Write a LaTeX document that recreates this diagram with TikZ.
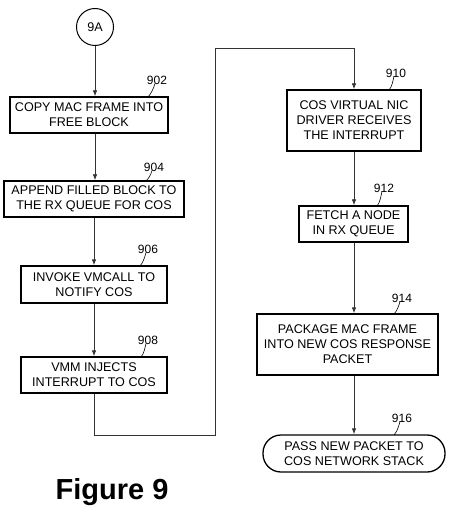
\documentclass[tikz,border=0pt]{standalone}
\usepackage{fontspec}
\setmainfont{Liberation Sans}
\usetikzlibrary{arrows.meta}
\begin{document}
\begin{tikzpicture}[x=1pt,y=-1pt,
 box/.style={draw,line width=1.3pt,align=center,inner sep=0pt,font=\fontsize{12.6}{15}\selectfont},
 term/.style={box,rounded corners=18pt},
 lbl/.style={font=\fontsize{12}{14}\selectfont,inner sep=0pt},
 flow/.style={draw=black!80,line width=0.8pt,-{Latex[length=6pt,width=4.5pt]}},
 lead/.style={draw,line width=0.6pt}]
\useasboundingbox (0,0) rectangle (449,510);

% start connector
\node[draw,line width=1pt,circle,minimum size=37pt,inner sep=0pt,font=\fontsize{12.6}{15}\selectfont] (c9a) at (95,27) {9A};

% left column
\node[box,minimum width=158pt,minimum height=36pt] (b902) at (89,115) {COPY MAC FRAME INTO\\FREE BLOCK};
\node[box,minimum width=180pt,minimum height=36pt] (b904) at (94,199) {APPEND FILLED BLOCK TO\\THE RX QUEUE FOR COS};
\node[box,minimum width=146pt,minimum height=37pt] (b906) at (94,284.5) {INVOKE VMCALL TO\\NOTIFY COS};
\node[box,minimum width=146pt,minimum height=36pt] (b908) at (94,375) {VMM INJECTS\\INTERRUPT TO COS};

% right column
\node[box,minimum width=134pt,minimum height=61pt] (b910) at (354,120.5) {COS VIRTUAL NIC\\DRIVER RECEIVES\\THE INTERRUPT};
\node[box,minimum width=109pt,minimum height=36pt] (b912) at (353.5,224) {FETCH A NODE\\IN RX QUEUE};
\node[box,minimum width=181pt,minimum height=61pt] (b914) at (347.5,344.5) {PACKAGE MAC FRAME\\INTO NEW COS RESPONSE\\PACKET};
\node[term,minimum width=182pt,minimum height=37pt] (b916) at (354,453.5) {PASS NEW PACKET TO\\COS NETWORK STACK};

% reference numerals
\node[lbl] (l902) at (157,80) {902};
\node[lbl] (l904) at (154,167) {904};
\node[lbl] (l906) at (148,249) {906};
\node[lbl] (l908) at (148,340) {908};
\node[lbl] (l910) at (396,73) {910};
\node[lbl] (l912) at (384,188) {912};
\node[lbl] (l914) at (402,298) {914};
\node[lbl] (l916) at (402,418) {916};

\coordinate (t902) at (148,97);
\coordinate (t904) at (146,181);
\coordinate (t906) at (140,266);
\coordinate (t908) at (141,357);
\coordinate (t910) at (389,90);
\coordinate (t912) at (377,206);
\coordinate (t914) at (394,314);
\coordinate (t916) at (394,435);

\foreach \n in {902,904,906,908,910,912,914,916}{
  \draw[lead] (t\n) .. controls +(3,-3) and +(-1,4) .. ([xshift=-2pt,yshift=1pt]l\n.south);
}

% flow
\draw[flow] (c9a.south) -- (c9a.south |- b902.north);
\draw[flow] (c9a.south |- b902.south) -- (c9a.south |- b904.north);
\draw[flow] (b904.south) -- (b906.north);
\draw[flow] (b906.south) -- (b908.north);
\coordinate (k1) at (215,435);
\coordinate (k2) at (215,48);
\draw[flow] (b908.south) |- (k1) -- (k2) -| (b910.north);
\draw[flow] (b910.south) -- (b910.south |- b912.north);
\draw[flow] (b910.south |- b912.south) -- (b910.south |- b914.north);
\draw[flow] (b910.south |- b914.south) -- (b916.north);

% caption
\node[font=\fontsize{29}{33}\selectfont\bfseries,inner sep=0pt,anchor=base] (cap) at (112,499) {Figure 9};
\end{tikzpicture}
\end{document}
